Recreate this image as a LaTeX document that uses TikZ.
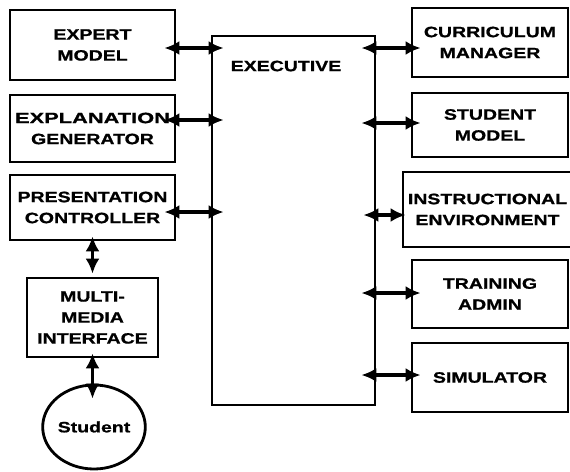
\documentclass[tikz,border=0pt]{standalone}
\usepackage{fontspec}
\newfontfamily\blkfont{Liberation Sans}[FakeStretch=1.3, FakeBold=1]
\usepackage{tikz}
\usetikzlibrary{positioning, calc, shapes, arrows.meta}

\tikzset{
  blk/.style={draw, line width=2.8pt, align=center, inner sep=0pt,
    font=\blkfont\bfseries\fontsize{15}{21}\selectfont},
  link/.style={{Latex[length=15pt,width=14pt]}-{Latex[length=15pt,width=14pt]}, line width=3.6pt}
}

\begin{document}
\begin{tikzpicture}[x=1pt, y=-1pt]
\useasboundingbox (0,0) rectangle (570,471);

% left column
\node[blk, minimum width=165pt, minimum height=70pt] (expert) at (92.5,45) {EXPERT\\MODEL};
\node[blk, minimum width=165pt, minimum height=67pt] (explan) at (92.5,128.5) {\scalebox{1.12}[1]{EXPLANATION}\\GENERATOR};
\node[blk, minimum width=165pt, minimum height=65pt] (present) at (92.5,207.5) {PRESENTATION\\CONTROLLER};
\node[blk, minimum width=131pt, minimum height=79pt] (multi) at (92.5,317.5) {MULTI-\\MEDIA\\INTERFACE};
\node[blk, ellipse, minimum width=98pt, minimum height=84pt] (student) at (94,427) {Student};

% executive
\node[blk, minimum width=163pt, minimum height=369pt] (exec) at (293.5,220.5) {};
\node[font=\blkfont\bfseries\fontsize{15}{21}\selectfont, inner sep=0pt] (exectitle) at (286,66) {EXECUTIVE};

% right column
\foreach \nm/\yc/\hgt/\txt in {curric/42.5/69/{CURRICULUM\\MANAGER}, stumodel/125/64/{STUDENT\\MODEL},
    train/294/68/{TRAINING\\ADMIN}, simul/377.5/69/{SIMULATOR}}
  \node[blk, minimum width=156pt, minimum height=\hgt pt] (\nm) at (490,\yc) {\txt};
\node[blk, minimum width=169pt, minimum height=75pt] (instr) at (487.5,209.5) {INSTRUCTIONAL\\ENVIRONMENT};

% links to executive
\foreach \nm/\dy in {expert/3, explan/-8.5, present/4.5}
  \draw[link, shorten <=-12pt, shorten >=-13pt] ($(\nm.east)+(0,\dy)$) -- ($(\nm.east -| exec.west)+(0,\dy)$);
\foreach \nm/\dy in {curric/5.5, stumodel/-2, train/-1, simul/-2.5}
  \draw[link, shorten <=-15pt, shorten >=-10pt] ($(\nm.west -| exec.east)+(0,\dy)$) -- ($(\nm.west)+(0,\dy)$);
\draw[link, shorten <=-13pt, shorten >=-4pt] ($(instr.west -| exec.east)+(0,5.5)$) -- ($(instr.west)+(0,5.5)$);

% student path
\draw[link, shorten <=-5pt, shorten >=3pt] (present.south -| multi.north) -- (multi.north);
\draw[link, shorten <=-5pt, shorten >=-15pt] (multi.south) -- (multi.south |- student.north);
\end{tikzpicture}
\end{document}
